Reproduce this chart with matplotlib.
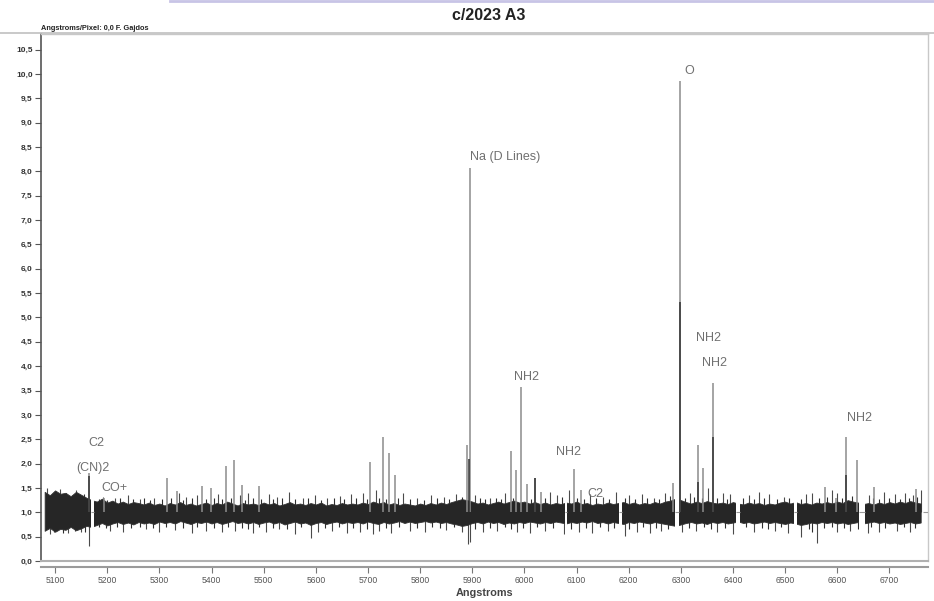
import matplotlib
matplotlib.use("Agg")
import matplotlib.pyplot as plt
import numpy as np

# noise band of the spectrum, sampled every 10 A from 5080 to 6760
BAND_WAVE = np.arange(5080, 6761, 10)
BAND_UP = [
    1.42, 1.35, 1.45, 1.38, 1.40, 1.33, 1.42, 1.36, 1.30, 1.25,
    1.22, 1.28, 1.20, 1.24, 1.18, 1.22, 1.17, 1.21, 1.19, 1.16,
    1.20, 1.15, 1.18, 1.14, 1.19, 1.16, 1.21, 1.15, 1.18, 1.14,
    1.17, 1.20, 1.15, 1.19, 1.16, 1.22, 1.18, 1.14, 1.19, 1.16,
    1.18, 1.15, 1.20, 1.16, 1.19, 1.14, 1.17, 1.21, 1.16, 1.18,
    1.15, 1.19, 1.16, 1.20, 1.14, 1.17, 1.15, 1.19, 1.16, 1.18,
    1.16, 1.20, 1.17, 1.22, 1.18, 1.21, 1.16, 1.19, 1.15, 1.18,
    1.16, 1.14, 1.18, 1.15, 1.19, 1.16, 1.20, 1.17, 1.21, 1.24,
    1.27, 1.25, 1.22, 1.18, 1.20, 1.16, 1.19, 1.22, 1.18, 1.21,
    1.24, 1.20, 1.22, 1.18, 1.21, 1.17, 1.20, 1.16, 1.19, 1.17,
    1.20, 1.18, 1.22, 1.17, 1.19, 1.15, 1.18, 1.16, 1.20, 1.17,
    1.19, 1.21, 1.17, 1.20, 1.16, 1.19, 1.17, 1.21, 1.18, 1.22,
    1.24, 1.28, 1.25, 1.21, 1.18, 1.22, 1.19, 1.23, 1.20, 1.18,
    1.20, 1.17, 1.21, 1.18, 1.16, 1.20, 1.17, 1.19, 1.15, 1.18,
    1.16, 1.20, 1.22, 1.18, 1.21, 1.17, 1.19, 1.16, 1.20, 1.18,
    1.21, 1.18, 1.22, 1.19, 1.25, 1.22, 1.20, 1.17, 1.19, 1.16,
    1.20, 1.17, 1.21, 1.18, 1.22, 1.19, 1.23, 1.20, 1.18,
]
BAND_LO = [
    0.62, 0.68, 0.60, 0.66, 0.64, 0.70, 0.63, 0.67, 0.72, 0.70,
    0.74, 0.78, 0.73, 0.77, 0.80, 0.76, 0.79, 0.75, 0.80, 0.77,
    0.79, 0.76, 0.81, 0.78, 0.80, 0.77, 0.82, 0.79, 0.76, 0.80,
    0.78, 0.81, 0.77, 0.80, 0.76, 0.79, 0.82, 0.78, 0.80, 0.77,
    0.80, 0.76, 0.79, 0.81, 0.77, 0.80, 0.75, 0.78, 0.81, 0.77,
    0.79, 0.74, 0.78, 0.80, 0.76, 0.79, 0.81, 0.77, 0.80, 0.78,
    0.80, 0.77, 0.81, 0.78, 0.76, 0.80, 0.77, 0.79, 0.82, 0.78,
    0.81, 0.78, 0.80, 0.82, 0.79, 0.81, 0.78, 0.80, 0.77, 0.75,
    0.72, 0.74, 0.78, 0.80, 0.77, 0.81, 0.78, 0.80, 0.76, 0.79,
    0.77, 0.80, 0.78, 0.81, 0.79, 0.77, 0.80, 0.78, 0.81, 0.79,
    0.77, 0.80, 0.78, 0.81, 0.79, 0.82, 0.78, 0.80, 0.77, 0.80,
    0.78, 0.76, 0.80, 0.78, 0.81, 0.79, 0.77, 0.80, 0.78, 0.76,
    0.74, 0.72, 0.75, 0.78, 0.80, 0.77, 0.79, 0.76, 0.80, 0.78,
    0.80, 0.77, 0.79, 0.81, 0.78, 0.80, 0.77, 0.79, 0.81, 0.78,
    0.80, 0.78, 0.76, 0.79, 0.77, 0.74, 0.76, 0.79, 0.77, 0.80,
    0.78, 0.80, 0.77, 0.79, 0.76, 0.78, 0.80, 0.77, 0.79, 0.81,
    0.78, 0.80, 0.77, 0.79, 0.76, 0.78, 0.80, 0.77, 0.79,
]

# larger noise spikes above and below the band
SPIKE_UP_WAVE = [5085, 5110, 5140, 5192, 5215, 5240, 5262, 5290, 5338, 5352,
                 5372, 5412, 5455, 5470, 5510, 5525, 5548, 5575, 5598, 5622,
                 5646, 5668, 5690, 5715, 5768, 5795, 5820, 5845, 5868, 5905,
                 5935, 5962, 6050, 6062, 6085, 6125, 6150, 6176, 6200, 6225,
                 6248, 6270, 6290, 6318, 6352, 6380, 6395, 6430, 6450, 6470,
                 6498, 6518, 6540, 6552, 6590, 6600, 6660, 6690, 6710, 6730,
                 6745, 6760]
SPIKE_UP_VAL = [1.50, 1.48, 1.45, 1.32, 1.30, 1.35, 1.28, 1.30, 1.40, 1.32,
                1.35, 1.38, 1.35, 1.40, 1.38, 1.32, 1.42, 1.30, 1.35, 1.30,
                1.33, 1.38, 1.40, 1.45, 1.40, 1.30, 1.35, 1.32, 1.38, 1.35,
                1.30, 1.40, 1.42, 1.35, 1.45, 1.38, 1.32, 1.42, 1.35, 1.38,
                1.30, 1.40, 1.55, 1.40, 1.50, 1.40, 1.38, 1.35, 1.42, 1.38,
                1.32, 1.45, 1.38, 1.40, 1.45, 1.40, 1.35, 1.42, 1.38, 1.40,
                1.35, 1.45]
SPIKE_DN_WAVE = [5090, 5125, 5150, 5165, 5205, 5230, 5275, 5300, 5330, 5362,
                 5390, 5420, 5445, 5480, 5505, 5530, 5560, 5590, 5605, 5632,
                 5660, 5685, 5710, 5722, 5745, 5780, 5810, 5850, 5880, 5892,
                 5896, 5920, 5948, 5985, 6010, 6040, 6075, 6105, 6130, 6160,
                 6192, 6215, 6240, 6262, 6302, 6330, 6370, 6400, 6440, 6480,
                 6505, 6530, 6561, 6600, 6625, 6658, 6680, 6715, 6740]
SPIKE_DN_VAL = [0.55, 0.58, 0.60, 0.30, 0.62, 0.60, 0.65, 0.60, 0.64, 0.58,
                0.62, 0.60, 0.62, 0.58, 0.60, 0.65, 0.55, 0.48, 0.60, 0.62,
                0.58, 0.60, 0.55, 0.62, 0.58, 0.62, 0.60, 0.64, 0.60, 0.35,
                0.38, 0.60, 0.62, 0.60, 0.58, 0.62, 0.55, 0.60, 0.58, 0.62,
                0.52, 0.60, 0.58, 0.62, 0.60, 0.62, 0.60, 0.55, 0.60, 0.62,
                0.58, 0.50, 0.37, 0.60, 0.62, 0.58, 0.60, 0.62, 0.60]

# smaller spikes that roughen the edges of the band
JAG_UP_WAVE = [5095, 5120, 5132, 5155, 5185, 5200, 5225, 5250, 5270, 5282,
               5305, 5322, 5345, 5362, 5390, 5405, 5420, 5437, 5465, 5480,
               5495, 5518, 5535, 5560, 5585, 5610, 5635, 5655, 5678, 5698,
               5722, 5735, 5758, 5780, 5808, 5832, 5855, 5880, 5915, 5925,
               5945, 5955, 5978, 6012, 6040, 6072, 6100, 6115, 6138, 6162,
               6192, 6212, 6236, 6258, 6280, 6308, 6325, 6340, 6370, 6388,
               6420, 6440, 6460, 6485, 6508, 6530, 6565, 6580, 6610, 6628,
               6668, 6680, 6700, 6720, 6738, 6752]
JAG_UP_VAL = [1.38, 1.40, 1.36, 1.38, 1.28, 1.26, 1.30, 1.27, 1.30, 1.26,
              1.28, 1.30, 1.26, 1.30, 1.28, 1.30, 1.27, 1.30, 1.26, 1.30,
              1.27, 1.28, 1.30, 1.27, 1.29, 1.26, 1.30, 1.27, 1.30, 1.28,
              1.30, 1.27, 1.29, 1.28, 1.26, 1.30, 1.28, 1.32, 1.30, 1.27,
              1.30, 1.28, 1.30, 1.28, 1.30, 1.32, 1.30, 1.27, 1.30, 1.28,
              1.30, 1.27, 1.30, 1.28, 1.34, 1.30, 1.32, 1.30, 1.30, 1.28,
              1.30, 1.27, 1.30, 1.28, 1.30, 1.28, 1.30, 1.32, 1.30, 1.33,
              1.30, 1.28, 1.30, 1.27, 1.30, 1.32]
JAG_DN_WAVE = [5098, 5115, 5138, 5158, 5185, 5198, 5218, 5245, 5262, 5288,
               5312, 5345, 5372, 5405, 5432, 5458, 5470, 5492, 5518, 5545,
               5572, 5618, 5645, 5672, 5698, 5735, 5760, 5795, 5822, 5838,
               5865, 5905, 5935, 5962, 5975, 5998, 6025, 6055, 6090, 6118,
               6145, 6172, 6200, 6228, 6252, 6275, 6315, 6345, 6358, 6385,
               6425, 6455, 6468, 6492, 6545, 6552, 6575, 6590, 6612, 6640,
               6665, 6692, 6728, 6750]
JAG_DN_VAL = [0.60, 0.58, 0.62, 0.60, 0.70, 0.68, 0.70, 0.68, 0.70, 0.68,
              0.70, 0.68, 0.70, 0.68, 0.70, 0.68, 0.66, 0.70, 0.68, 0.66,
              0.70, 0.68, 0.70, 0.68, 0.66, 0.68, 0.70, 0.68, 0.70, 0.68,
              0.70, 0.66, 0.68, 0.70, 0.66, 0.68, 0.70, 0.68, 0.66, 0.68,
              0.70, 0.68, 0.66, 0.70, 0.68, 0.66, 0.68, 0.70, 0.66, 0.68,
              0.70, 0.68, 0.66, 0.70, 0.66, 0.60, 0.68, 0.70, 0.68, 0.66,
              0.70, 0.68, 0.70, 0.68]

# emission lines (light grey) and their darker inner parts
LINE_WAVE = [5165, 5194, 5315, 5333, 5382, 5399, 5428, 5443, 5458, 5491,
             5704, 5729, 5740, 5752, 5889, 5895, 5974, 5984, 5993, 6005,
             6020, 6032, 6095, 6109, 6285, 6298, 6333, 6343, 6362, 6576,
             6598, 6616, 6638, 6671, 6751]
LINE_VAL = [1.80, 1.30, 1.71, 1.44, 1.53, 1.50, 1.96, 2.07, 1.56, 1.55,
            2.03, 2.55, 2.22, 1.77, 2.38, 8.07, 2.26, 1.87, 3.58, 1.58,
            1.70, 1.42, 1.89, 1.46, 1.60, 9.86, 2.38, 1.91, 3.66, 1.52,
            1.29, 2.55, 2.07, 1.52, 1.48]
DARK_WAVE = [5165, 5893, 6020, 6298, 6333, 6362, 6616]
DARK_VAL = [1.75, 2.10, 1.70, 5.32, 1.63, 2.55, 1.77]

# short stretches without data
GAP_START = [5169, 6077, 6181, 6289, 6406, 6517, 6642]
GAP_END = [5175, 6082, 6187, 6296, 6413, 6522, 6654]

LABEL_TEXT = ["C2", "(CN)2", "CO+", "Na (D Lines)", "NH2", "NH2", "C2",
              "O", "NH2", "NH2", "NH2"]
LABEL_X = [5180, 5173, 5213, 5963, 6005, 6084, 6137, 6316, 6354, 6364, 6642]
LABEL_Y = [2.42, 1.91, 1.50, 8.30, 3.78, 2.24, 1.38, 10.06, 4.58, 4.07, 2.94]

X_TICKS = np.arange(5100, 6701, 100)
Y_TICKS = np.arange(0, 10.51, 0.5)


def main():
    plt.rcParams["font.family"] = ["Liberation Sans", "DejaVu Sans"]
    fig = plt.figure(figsize=(9.34, 6.01), dpi=100)
    ax = fig.add_axes([41 / 934, 1 - 561 / 601, 887 / 934, 527 / 601])

    ax.set_xlim(5073, 6774)
    ax.set_ylim(0, 10.82)

    ax.vlines(SPIKE_UP_WAVE, 1.0, SPIKE_UP_VAL, color="#4a4a4a", lw=0.8, zorder=2)
    ax.vlines(SPIKE_DN_WAVE, SPIKE_DN_VAL, 1.0, color="#4a4a4a", lw=0.8, zorder=2)
    ax.vlines(JAG_UP_WAVE, 1.0, JAG_UP_VAL, color="#2e2e2e", lw=0.8, zorder=2)
    ax.vlines(JAG_DN_WAVE, JAG_DN_VAL, 1.0, color="#2e2e2e", lw=0.8, zorder=2)
    ax.fill_between(BAND_WAVE, BAND_LO, BAND_UP, color="#262626", lw=0.6,
                    edgecolor="#333333", zorder=3)

    # blank out the data gaps, the 1.0 reference line shows through them
    for g0, g1 in zip(GAP_START, GAP_END):
        ax.fill_between([g0, g1], 0.2, 1.9, color="white", lw=0, zorder=4)
    ax.hlines([1.0] * len(GAP_START), GAP_START, GAP_END, color="#9a9a9a",
              lw=0.8, zorder=4.5)
    ax.hlines([1.0], [6764], [6774], color="#9a9a9a", lw=0.8, zorder=4.5)

    ax.vlines(LINE_WAVE, 1.0, LINE_VAL, color="#8c8c8c", lw=1.1, zorder=5)
    ax.vlines(DARK_WAVE, 1.0, DARK_VAL, color="#333333", lw=1.1, zorder=6)

    for txt, lx, ly in zip(LABEL_TEXT, LABEL_X, LABEL_Y):
        ax.text(lx, ly, txt, ha="center", va="center", fontsize=9,
                color="#707070", zorder=7)

    # frame: plot box plus a detached x axis below it
    ax.axhline(0.0, color="#b0b0b0", lw=1.5, zorder=8, clip_on=False)
    for side in ["top", "right"]:
        ax.spines[side].set_color("#c8c8c8")
        ax.spines[side].set_linewidth(1.0)
    ax.spines["left"].set_color("#555555")
    ax.spines["left"].set_linewidth(1.2)
    ax.spines["bottom"].set_position(("outward", 4))
    ax.spines["bottom"].set_color("#9a9a9a")
    ax.spines["bottom"].set_linewidth(1.5)

    ax.set_xticks(X_TICKS)
    ax.set_xticklabels([str(t) for t in X_TICKS], fontsize=6.2, color="#555555")
    ax.set_yticks(Y_TICKS)
    ax.set_yticklabels([f"{t:.1f}".replace(".", ",") for t in Y_TICKS],
                       fontsize=6, color="#333333", fontweight="bold")
    ax.tick_params(axis="x", length=4, width=0.8, color="#777777", pad=3)
    ax.tick_params(axis="y", length=4, width=0.8, color="#555555", pad=2)
    ax.set_xlabel("Angstroms", fontsize=7.8, fontweight="bold",
                  color="#444444", labelpad=2)

    fig.text(489 / 934, 1 - 16 / 601, "c/2023 A3", ha="center", va="center",
             fontsize=11.5, fontweight="bold", color="#222222")
    fig.text(41 / 934, 1 - 29 / 601, "Angstroms/Pixel: 0,0 F. Gajdos",
             ha="left", va="center", fontsize=5.3, fontweight="bold",
             color="#222222")
    fig.add_artist(plt.Line2D([0, 1], [1 - 33 / 601, 1 - 33 / 601],
                              color="#c0c0c0", lw=1.2))
    fig.add_artist(plt.Line2D([170 / 934, 1], [0.999, 0.999],
                              color="#c8c4e6", lw=2.0))

    fig.savefig("out.png", dpi=100)


if __name__ == "__main__":
    main()
